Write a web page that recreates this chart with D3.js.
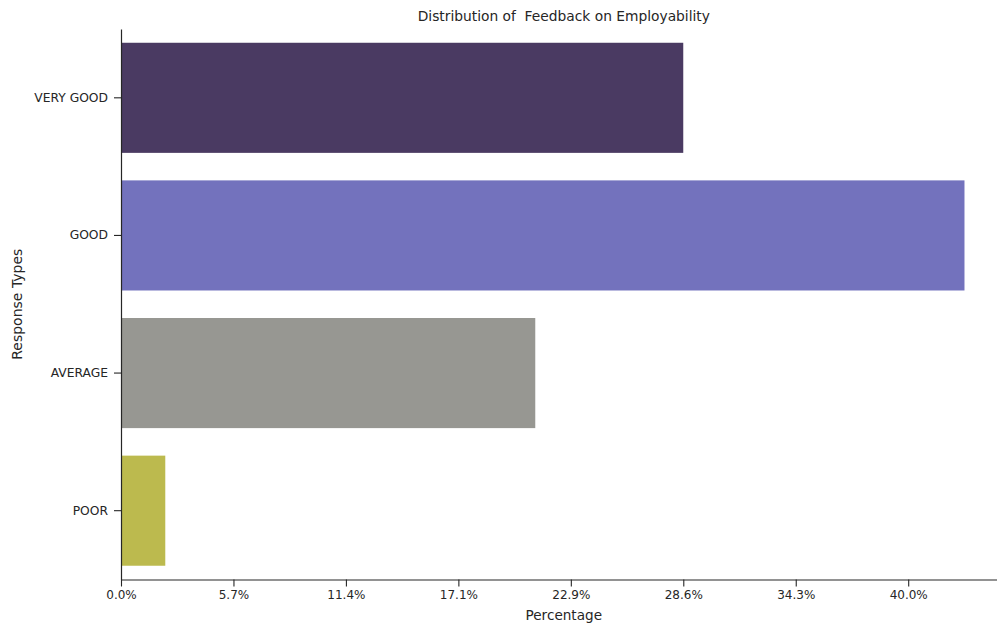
<!DOCTYPE html>
<html>
<head>
<meta charset="utf-8">
<script src="https://cdn.jsdelivr.net/npm/d3@7"></script>
<style>
  html, body { margin: 0; padding: 0; background: #fff; }
  svg { display: block; }
  text { font-family: "DejaVu Sans", sans-serif; fill: #262626; }
</style>
</head>
<body>
<script>
const categories = ["VERY GOOD", "GOOD", "AVERAGE", "POOR"];
const percentages = [28.57, 42.86, 21.05, 2.25];
const barColors = ["#4a3a62", "#7372bd", "#979792", "#bcba4e"];
const tickValues = [0, 40/7, 80/7, 120/7, 160/7, 200/7, 240/7, 40];
const tickLabels = ["0.0%", "5.7%", "11.4%", "17.1%", "22.9%", "28.6%", "34.3%", "40.0%"];
const titleText = "Distribution of  Feedback on Employability";
const xLabelText = "Percentage";
const yLabelText = "Response Types";

(function () {
const W = 997, H = 627;
const mLeft = 121, mTop = 29, mBottom = 579.5;
const xMax = 45;
const pxPerUnit = 19.68;
const mRight = mLeft + xMax * pxPerUnit;

const svg = d3.select("body").append("svg").attr("width", W).attr("height", H);

const x = d3.scaleLinear().domain([0, xMax]).range([mLeft, mRight]);
const y = d3.scaleBand().domain(categories).range([mTop, mBottom]).paddingInner(0.2).paddingOuter(0.1);

svg.selectAll("rect.bar").data(categories).enter().append("rect")
  .attr("class", "bar")
  .attr("x", x(0))
  .attr("y", d => y(d))
  .attr("width", (d, i) => x(percentages[i]) - x(0))
  .attr("height", y.bandwidth())
  .attr("fill", (d, i) => barColors[i]);

const xAxis = d3.axisBottom(x).tickValues(tickValues).tickFormat((d, i) => tickLabels[i]).tickSize(7).tickSizeOuter(0).tickPadding(4);
const gx = svg.append("g").attr("transform", `translate(0,${mBottom})`).call(xAxis);
gx.select(".domain").attr("stroke", "#262626").attr("stroke-width", 1.2);
gx.selectAll(".tick line").attr("stroke", "#262626").attr("stroke-width", 1.1);
gx.selectAll(".tick text").style("font-size", "12px").attr("fill", "#262626");

const yAxis = d3.axisLeft(y).tickSize(7).tickSizeOuter(0).tickPadding(6);
const gy = svg.append("g").attr("transform", `translate(${mLeft},0)`).call(yAxis);
gy.select(".domain").attr("stroke", "#262626").attr("stroke-width", 1.2);
gy.selectAll(".tick line").attr("stroke", "#262626").attr("stroke-width", 1.1);
gy.selectAll(".tick text").style("font-size", "12.3px").attr("fill", "#262626");

svg.append("text").attr("x", (mLeft + mRight) / 2).attr("y", 21)
  .attr("text-anchor", "middle").style("font-size", "13.8px").style("white-space", "pre")
  .attr("xml:space", "preserve").text(titleText);

svg.append("text").attr("x", (mLeft + mRight) / 2).attr("y", 620)
  .attr("text-anchor", "middle").style("font-size", "13.6px").text(xLabelText);

svg.append("text").attr("transform", `translate(21.5,${(mTop + mBottom) / 2}) rotate(-90)`)
  .attr("text-anchor", "middle").style("font-size", "14px").text(yLabelText);
})();
</script>
</body>
</html>
